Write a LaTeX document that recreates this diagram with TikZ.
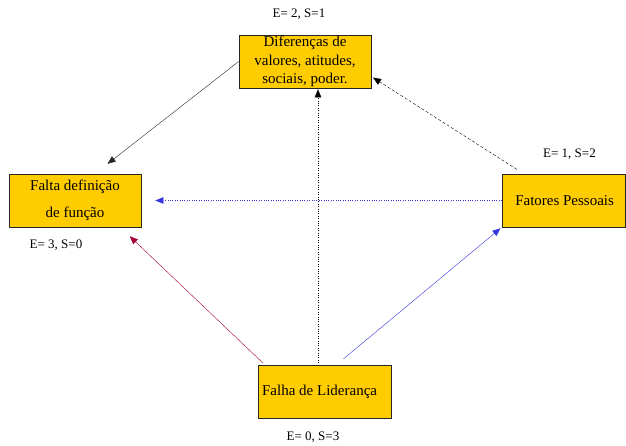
\documentclass[tikz,border=0pt]{standalone}
\usepackage{fontspec}
\setmainfont{Liberation Serif}
\usepackage{xcolor}
\usetikzlibrary{arrows.meta,shadows}

\definecolor{ouro}{HTML}{FFCC00}
\definecolor{vermelho}{HTML}{A30030}
\definecolor{azul}{HTML}{3535DC}

\begin{document}
\begin{tikzpicture}[x=1pt, y={(0pt,-1pt)},
    causa/.style={rectangle, draw=black!85, line width=0.7pt, fill=ouro, align=center,
      inner sep=0pt, font=\fontsize{15}{18.5}\selectfont,
      drop shadow={shadow xshift=1.2pt, shadow yshift=-1.2pt, fill=black!55, opacity=1}},
    rotulo/.style={font=\fontsize{13}{15}\selectfont, inner sep=0pt},
    seta/.style={-{Triangle[length=8pt,width=6.5pt]}, line width=0.4pt}]

    \useasboundingbox (0,0) rectangle (626,446);

    \node[causa, minimum width=132pt, minimum height=53pt] (dif) at (305,61.5) {
        Diferenças de\\
        valores, atitudes,\\
        sociais, poder.
    };
    \node[causa, minimum width=132pt, minimum height=53pt] (falta) at (75,200.5) {
        Falta definição\\[8pt]
        de função
    };
    \node[causa, minimum width=123pt, minimum height=53pt] (fatores) at (563.5,200.5) {
        \hspace*{6pt}Fatores Pessoais
    };
    \node[causa, minimum width=133pt, minimum height=53pt] (falha) at (324.5,391.5) {
        Falha de Liderança\hspace*{6pt}
    };

    \node[rotulo] (ldif) at (299,14) {E= 2, S=1};
    \node[rotulo] (lfatores) at (569.5,154) {E= 1, S=2};
    \node[rotulo] (lfalta) at (56,245) {E= 3, S=0};
    \node[rotulo] (lfalha) at (313,437) {E= 0, S=3};

    \draw[seta, black!85, shorten >=16pt] (dif.west) -- ([xshift=20pt]falta.north);
    \draw[seta, dashed, dash pattern=on 3pt off 2pt, shorten <=8pt, shorten >=2pt]
        ([xshift=-40pt]fatores.north) -- ([yshift=-15pt]dif.east);
    \draw[seta, azul, dotted, shorten >=14pt] (fatores.west) -- (falta.east);
    \draw[seta, dotted, shorten <=2pt, shorten >=1pt]
        ([xshift=-6.5pt]falha.north) -- ([xshift=-6.5pt]falha.north |- dif.south);
    \draw[seta, vermelho, shorten <=2pt, shorten >=13pt]
        ([xshift=7pt]falha.north west) -- ([xshift=-21pt]falta.south east);
    \draw[seta, azul, shorten <=9pt, shorten >=1.5pt]
        ([xshift=12pt]falha.north) -- (fatores.south west);

\end{tikzpicture}
\end{document}
